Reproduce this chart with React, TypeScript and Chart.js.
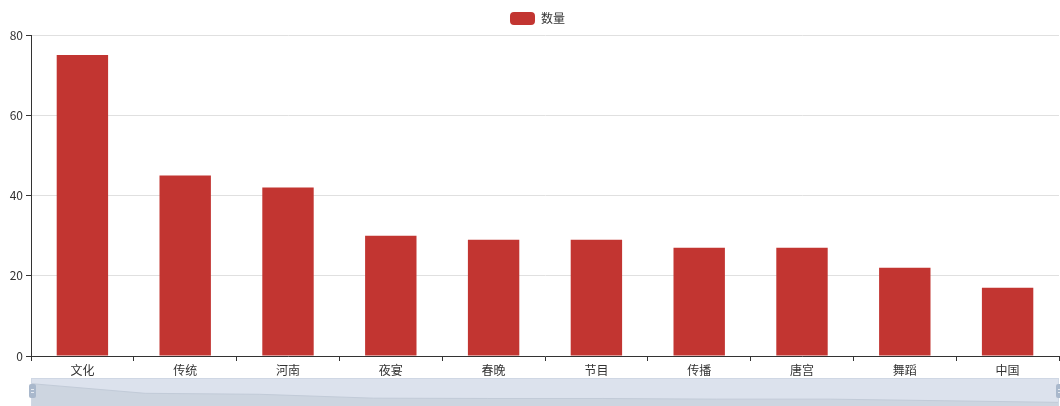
import React, { useEffect, useRef } from "react";
import { Chart, registerables } from "chart.js";

Chart.register(...registerables);

const categories = ["文化", "传统", "河南", "夜宴", "春晚", "节目", "传播", "唐宫", "舞蹈", "中国"];
const counts = [75, 45, 42, 30, 29, 29, 27, 27, 22, 17];
const yTicks = [0, 20, 40, 60, 80];
const seriesName = "数量";

const FONT = "'Noto Sans CJK SC', 'Noto Sans', sans-serif";

const legendShift = {
  id: "legendShift",
  afterLayout(chart: any) {
    if (chart.legend) {
      chart.legend.left += 8;
      chart.legend.right += 8;
    }
  },
};

const sliderPlugin = {
  id: "sliderShadow",
  afterDraw(chart: any) {
    const ctx = chart.ctx;
    const { left, right } = chart.chartArea;
    const top = 378;
    const h = 30;
    const w = right - left;
    ctx.save();
    ctx.fillStyle = "#dce2ed";
    ctx.fillRect(left, top, w, h);
    const mn = Math.min(...counts);
    const mx = Math.max(...counts);
    const margin = (mx - mn) * 0.3;
    const lo = mn - margin;
    const hi = mx + margin;
    const pts = counts.map((v, i) => [
      left + (i / (counts.length - 1)) * w,
      top + h - ((v - lo) / (hi - lo)) * h,
    ]);
    ctx.beginPath();
    ctx.moveTo(left, top + h);
    pts.forEach(([x, y]) => ctx.lineTo(x, y));
    ctx.lineTo(right, top + h);
    ctx.closePath();
    ctx.fillStyle = "#cdd5e0";
    ctx.fill();
    ctx.beginPath();
    pts.forEach(([x, y], i) => (i ? ctx.lineTo(x, y) : ctx.moveTo(x, y)));
    ctx.strokeStyle = "#c2cbd8";
    ctx.lineWidth = 1;
    ctx.stroke();
    ctx.strokeStyle = "#cfd7e4";
    ctx.strokeRect(left + 0.5, top + 0.5, w - 1, h);
    const drawHandle = (x: number) => {
      ctx.fillStyle = "#a9b8cc";
      ctx.beginPath();
      ctx.roundRect(x - 3, 384, 7, 14, 2);
      ctx.fill();
      ctx.strokeStyle = "#e6ebf2";
      ctx.beginPath();
      ctx.moveTo(x - 1, 389.5);
      ctx.lineTo(x + 2, 389.5);
      ctx.moveTo(x - 1, 392.5);
      ctx.lineTo(x + 2, 392.5);
      ctx.stroke();
    };
    drawHandle(left + 1);
    drawHandle(right);
    ctx.restore();
  },
};

export default function App() {
  const ref = useRef<HTMLCanvasElement | null>(null);
  useEffect(() => {
    document.body.style.margin = "0";
    const chart = new Chart(ref.current!, {
      type: "bar",
      data: {
        labels: categories,
        datasets: [
          {
            label: seriesName,
            data: counts,
            backgroundColor: "#c23531",
            categoryPercentage: 0.5,
            barPercentage: 1,
          },
        ],
      },
      options: {
        animation: false,
        responsive: false,
        maintainAspectRatio: false,
        layout: { padding: { left: 0, right: 1, top: 1, bottom: 30 } },
        plugins: {
          tooltip: { enabled: false },
          legend: {
            display: true,
            position: "top",
            labels: {
              boxWidth: 25,
              boxHeight: 13,
              padding: 11,
              color: "#333",
              font: { family: FONT, size: 12 },
              useBorderRadius: true,
              borderRadius: 4,
            },
          },
        },
        scales: {
          x: {
            grid: {
              display: true,
              drawOnChartArea: false,
              drawTicks: true,
              offset: true,
              tickLength: 5,
              color: "#333",
            },
            border: { display: true, color: "#333" },
            ticks: { color: "#333", font: { family: FONT, size: 12 }, padding: 2, maxRotation: 0, autoSkip: false },
            afterFit: (s: any) => {
              s.height = 20;
            },
          },
          y: {
            min: yTicks[0],
            max: yTicks[yTicks.length - 1],
            afterBuildTicks: (s: any) => {
              s.ticks = yTicks.map((v) => ({ value: v }));
            },
            grid: { color: "#e0e0e0", tickLength: 5, tickColor: "#333" },
            border: { display: true, color: "#333" },
            ticks: { color: "#333", font: { family: FONT, size: 12 }, padding: 3 },
            afterFit: (s: any) => {
              s.width = 31;
            },
          },
        },
      },
      plugins: [legendShift, sliderPlugin],
    });
    return () => chart.destroy();
  }, []);
  return <canvas ref={ref} width={1060} height={406} style={{ display: "block" }} />;
}
